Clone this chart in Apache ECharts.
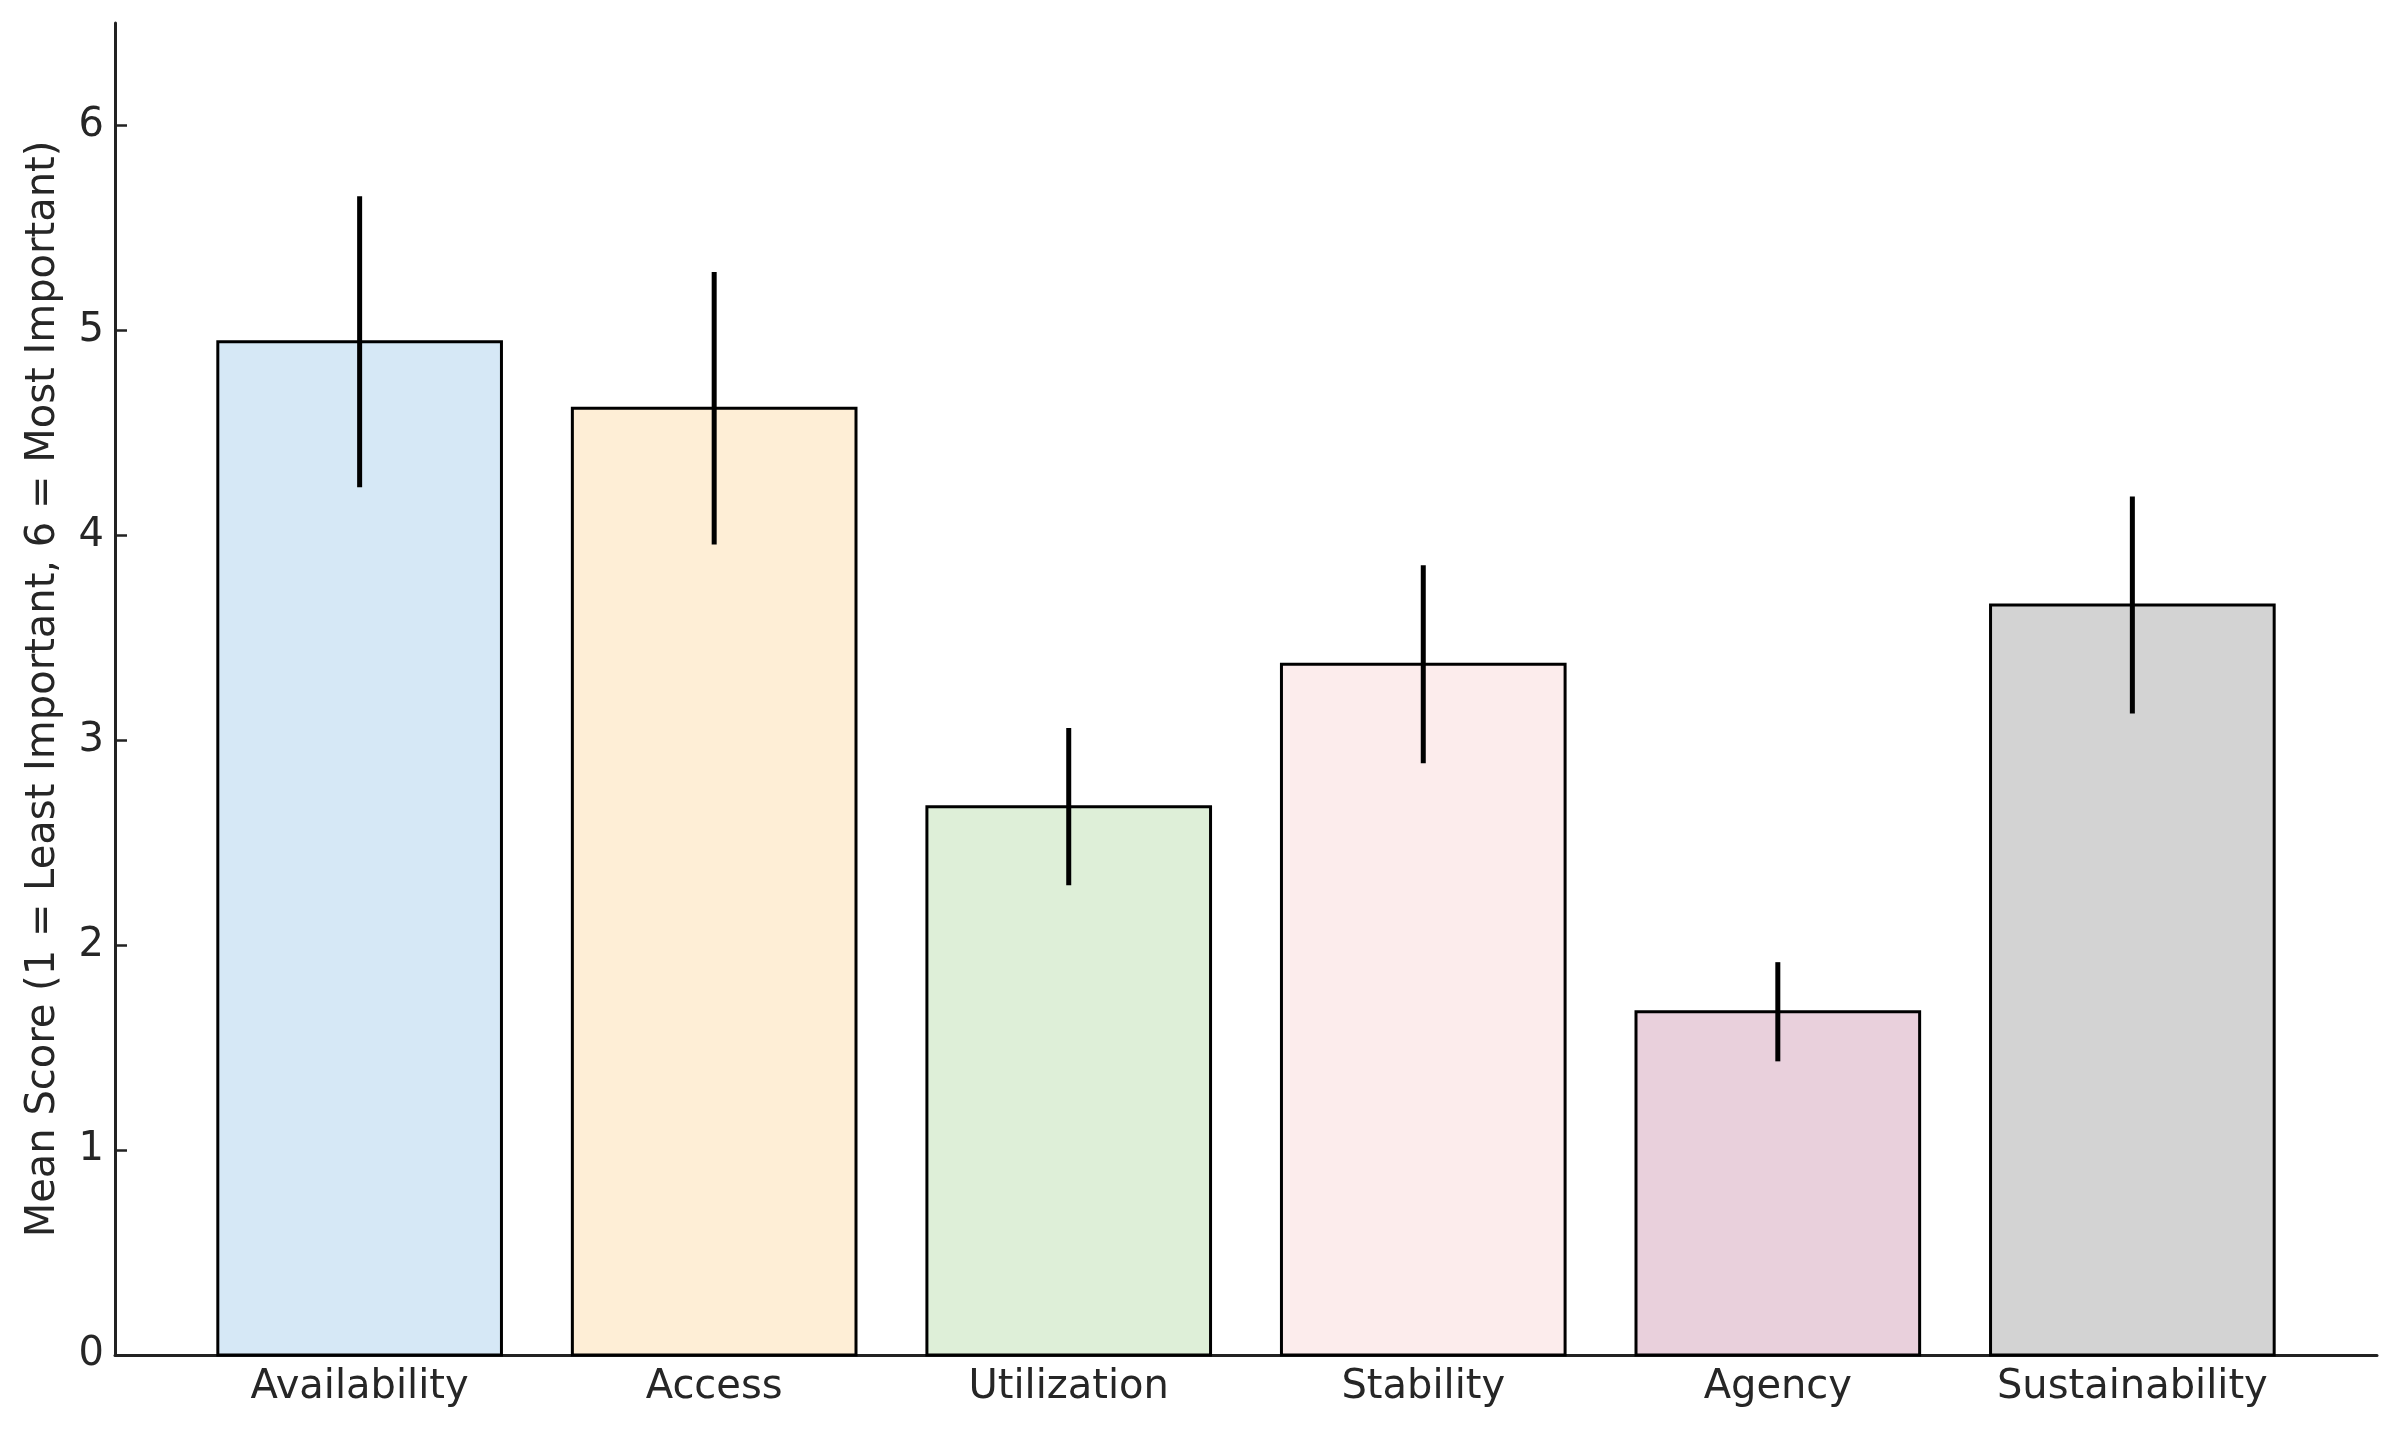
<!DOCTYPE html>
<html>
<head>
<meta charset="utf-8">
<script src="https://cdn.jsdelivr.net/npm/echarts@6/dist/echarts.min.js"></script>
<style>html,body{margin:0;padding:0;background:#fff}#c{width:2400px;height:1431px}</style>
</head>
<body>
<div id="c"></div>
<script>
const categories = ['Availability', 'Access', 'Utilization', 'Stability', 'Agency', 'Sustainability'];
const means = [4.945, 4.62, 2.676, 3.371, 1.675, 3.66];
const errors = [0.71, 0.665, 0.384, 0.483, 0.242, 0.529];
const barColors = ['#D6E8F6', '#FEEED6', '#DEEFD8', '#FCECEC', '#E9D0DC', '#D3D3D3'];
const yTicks = [0, 1, 2, 3, 4, 5, 6];
const yName = 'Mean Score (1 = Least Important, 6 = Most Important)';

const catIdx = categories.map((_, i) => i);
const barData = categories.map((c, i) => [i, means[i]]);
const errData = categories.map((c, i) => [i, means[i] - errors[i], means[i] + errors[i]]);
const font = 'DejaVu Sans';
const txt = '#262626';

const chart = echarts.init(document.getElementById('c'), null, {renderer: 'canvas'});
chart.setOption({
  backgroundColor: '#ffffff',
  animation: false,
  grid: {left: 115, right: 23, top: 23, bottom: 76, containLabel: false},
  xAxis: {
    type: 'value', min: -0.69, max: 5.69,
    splitLine: {show: false},
    axisLine: {show: true, onZero: false, lineStyle: {color: '#222', width: 3}},
    axisTick: {show: true, inside: true, length: 12, lineStyle: {color: '#222', width: 2.5}, customValues: catIdx},
    axisLabel: {show: true, customValues: catIdx, formatter: v => categories[Math.round(v)] || '',
      fontFamily: font, fontSize: 40, color: txt, margin: 13}
  },
  yAxis: {
    type: 'value', min: 0, max: 6.5,
    name: yName, nameLocation: 'middle', nameGap: 51, nameRotate: 90,
    nameTextStyle: {fontFamily: font, fontSize: 40, color: txt},
    splitLine: {show: false},
    axisLine: {show: true, onZero: false, lineStyle: {color: '#222', width: 3}},
    axisTick: {show: true, inside: true, length: 12, lineStyle: {color: '#222', width: 2.5}, customValues: yTicks},
    axisLabel: {show: true, customValues: yTicks, fontFamily: font, fontSize: 40, color: txt, margin: 11}
  },
  series: [
    {
      type: 'custom',
      data: barData,
      renderItem: function (params, api) {
        const x = api.value(0), v = api.value(1);
        const top = api.coord([x, v]);
        const bot = api.coord([x, 0]);
        const w = api.size([0.8, 0])[0];
        return {
          type: 'rect',
          shape: {x: top[0] - w / 2, y: top[1], width: w, height: bot[1] - top[1]},
          style: {fill: barColors[params.dataIndex], stroke: '#000', lineWidth: 3}
        };
      },
      z: 2
    },
    {
      type: 'custom',
      data: errData,
      renderItem: function (params, api) {
        const x = api.value(0);
        const lo = api.coord([x, api.value(1)]);
        const hi = api.coord([x, api.value(2)]);
        return {
          type: 'line',
          shape: {x1: lo[0], y1: lo[1], x2: hi[0], y2: hi[1]},
          style: {stroke: '#000', lineWidth: 5}
        };
      },
      z: 3
    }
  ]
});
</script>
</body>
</html>
